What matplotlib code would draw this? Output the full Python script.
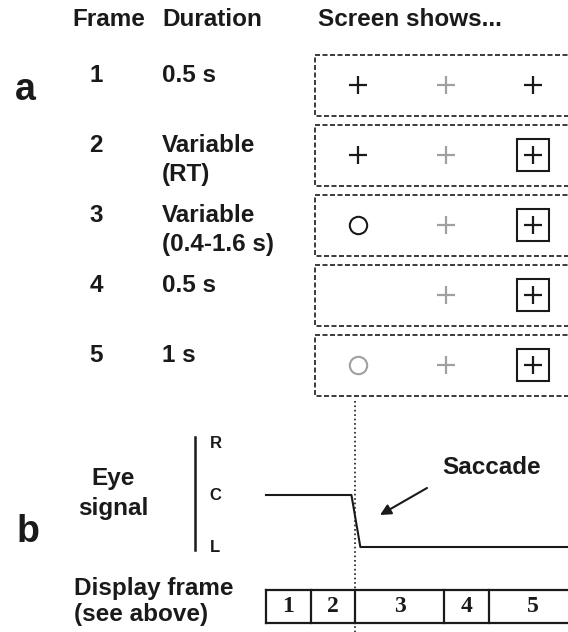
import matplotlib.pyplot as plt
from matplotlib.patches import Rectangle

plt.rcParams['font.family'] = ['Liberation Sans', 'DejaVu Sans']
plt.rcParams['font.weight'] = 'bold'

# ---- panel a: trial frames ----
header = ["Frame", "Duration", "Screen shows..."]
frames = ["1", "2", "3", "4", "5"]
durations = ["0.5 s", "Variable\n(RT)", "Variable\n(0.4-1.6 s)", "0.5 s", "1 s"]
left_item = ["plus", "plus", "circle", "", "circle"]
left_gray = [False, False, False, False, True]
mid_item = ["plus", "plus", "plus", "plus", "plus"]
right_item = ["plus", "boxplus", "boxplus", "boxplus", "boxplus"]

# ---- panel b: eye signal and display frames ----
frame_edges = [0, 1, 2, 4, 5, 7]
frame_labels = ["1", "2", "3", "4", "5"]
eye_t = [0, 1.92, 2.12, 7]
eye_pos = [0, 0, -1, -1]
eye_levels = [1, 0, -1]
eye_level_labels = ["R", "C", "L"]
saccade_t = 2

ink = "#1a1a1a"
gray = "#a0a0a0"

fig = plt.figure(figsize=(5.68, 6.32), dpi=100)
ax = fig.add_axes([0, 0, 1, 1])
ax.set_xlim(0, 568)
ax.set_ylim(632, 0)
ax.axis("off")

# layout (pixels)
row_y0, row_step = 85, 70
col_x = [358, 446, 533]
fs = 17.5

for x, h in zip([72, 162, 318], header):
    ax.text(x, 19, h, fontsize=fs, ha="left", va="center", color=ink)

ax.text(15, 100, "a", fontsize=27, ha="left", va="baseline", color=ink)


def draw_item(x, y, kind, color):
    if kind == "plus":
        ax.plot(x, y, marker="+", ms=13, mew=1.6, color=color)
    elif kind == "boxplus":
        ax.plot(x, y, marker="+", ms=13, mew=1.6, color=color)
        ax.plot(x, y, marker="s", ms=23, mew=1.5, mfc="none", mec=color)
    elif kind == "circle":
        ax.plot(x, y, marker="o", ms=12.5, mew=1.5, mfc="none", mec=color)


for i in range(len(frames)):
    y = row_y0 + row_step * i
    ax.text(96, y - 10, frames[i], fontsize=fs, ha="center", va="center", color=ink)
    for j, line in enumerate(durations[i].split("\n")):
        ax.text(162, y - 10 + 29 * j, line, fontsize=fs, ha="left", va="center", color=ink)
    ax.add_patch(Rectangle((315, y - 30.5), 270, 61, fill=False, ec=ink,
                           lw=1.2, ls=(0, (3, 1.5))))
    draw_item(col_x[0], y, left_item[i], gray if left_gray[i] else ink)
    draw_item(col_x[1], y, mid_item[i], gray)
    draw_item(col_x[2], y, right_item[i], ink)

# ---- panel b ----
ax.text(17, 542, "b", fontsize=27, ha="left", va="baseline", color=ink)
ax.text(113, 479, "Eye", fontsize=fs, ha="center", va="center", color=ink)
ax.text(113, 508, "signal", fontsize=fs, ha="center", va="center", color=ink)
ax.text(74, 589, "Display frame", fontsize=fs, ha="left", va="center", color=ink)
ax.text(74, 614, "(see above)", fontsize=fs, ha="left", va="center", color=ink)
ax.text(492, 467, "Saccade", fontsize=fs, ha="center", va="center", color=ink)
ax.annotate("", xy=(380, 515), xytext=(427, 488),
            arrowprops=dict(arrowstyle="-|>", color=ink, lw=1.5,
                            mutation_scale=16, shrinkA=0, shrinkB=0))

# timeline axes: 1 time unit = 44.5 px, 1 eye level = 52 px
axb = fig.add_axes([266 / 568, 1 - 547 / 632, 7 * 44.5 / 568, 104 / 632])
axb.set_xlim(0, 7)
axb.set_ylim(-1, 1)
axb.axis("off")

axb.plot(eye_t, eye_pos, color=ink, lw=1.5, clip_on=False)
axb.plot([-1.6, -1.6], [1.12, -1.06], color=ink, lw=1.8, clip_on=False)
for lv, lab in zip(eye_levels, eye_level_labels):
    axb.text(-1.27, lv, lab, fontsize=12, ha="left", va="center", color=ink)

axb.plot([saccade_t, saccade_t], [1.8, -2.7], color=ink, lw=1.2, ls=":", clip_on=False)

row_top, row_bot = -1.83, -2.46
axb.plot([frame_edges[0], frame_edges[-1]], [row_top, row_top], color=ink, lw=1.6, clip_on=False)
axb.plot([frame_edges[0], frame_edges[-1]], [row_bot, row_bot], color=ink, lw=1.6, clip_on=False)
for e in frame_edges[:-1]:
    axb.plot([e, e], [row_top, row_bot], color=ink, lw=1.6, clip_on=False)
for k, lab in enumerate(frame_labels):
    mid = (frame_edges[k] + frame_edges[k + 1]) / 2
    axb.text(mid, (row_top + row_bot) / 2, lab, fontsize=17, ha="center", va="center",
             family="Liberation Serif", color=ink)

fig.savefig("out.png", dpi=100)
